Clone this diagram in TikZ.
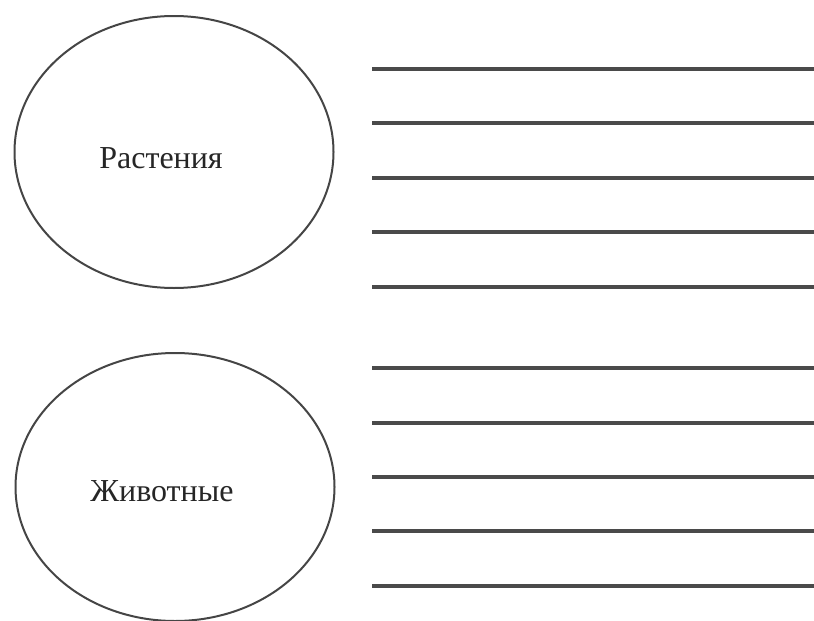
\documentclass[tikz,border=0pt]{standalone}
\usepackage{fontspec}
\setmainfont{Liberation Serif}
\usetikzlibrary{shapes.geometric}
\definecolor{inkgray}{HTML}{454545}
\definecolor{linegray}{HTML}{4A4A4A}
\tikzset{
  blob/.style={ellipse, draw=inkgray, line width=2pt, minimum width=319pt, minimum height=272pt, inner sep=0pt},
  label/.style={font=\fontsize{32}{36}\selectfont, text=black!85},
  rule/.style={draw=linegray, line width=3.4pt}
}
\begin{document}
\begin{tikzpicture}[x=1pt,y=-1pt]
\useasboundingbox (0,0) rectangle (814,621);
\node[blob] (plants) at (174,152) {};
\node[label] (plantsT) at (161,158) {Растения};
\node[blob, minimum height=268pt] (animals) at (175,487) {};
\node[label] (animalsT) at (162,491) {Животные};
\foreach \y [count=\i] in {69,123,178,232,287} {
  \coordinate (pa\i) at (372,\y);
  \coordinate (pb\i) at (814,\y);
  \draw[rule] (pa\i) -- (pb\i);
}
\foreach \y [count=\i] in {368,423,477,531,586} {
  \coordinate (aa\i) at (372,\y);
  \coordinate (ab\i) at (814,\y);
  \draw[rule] (aa\i) -- (ab\i);
}
\end{tikzpicture}
\end{document}
